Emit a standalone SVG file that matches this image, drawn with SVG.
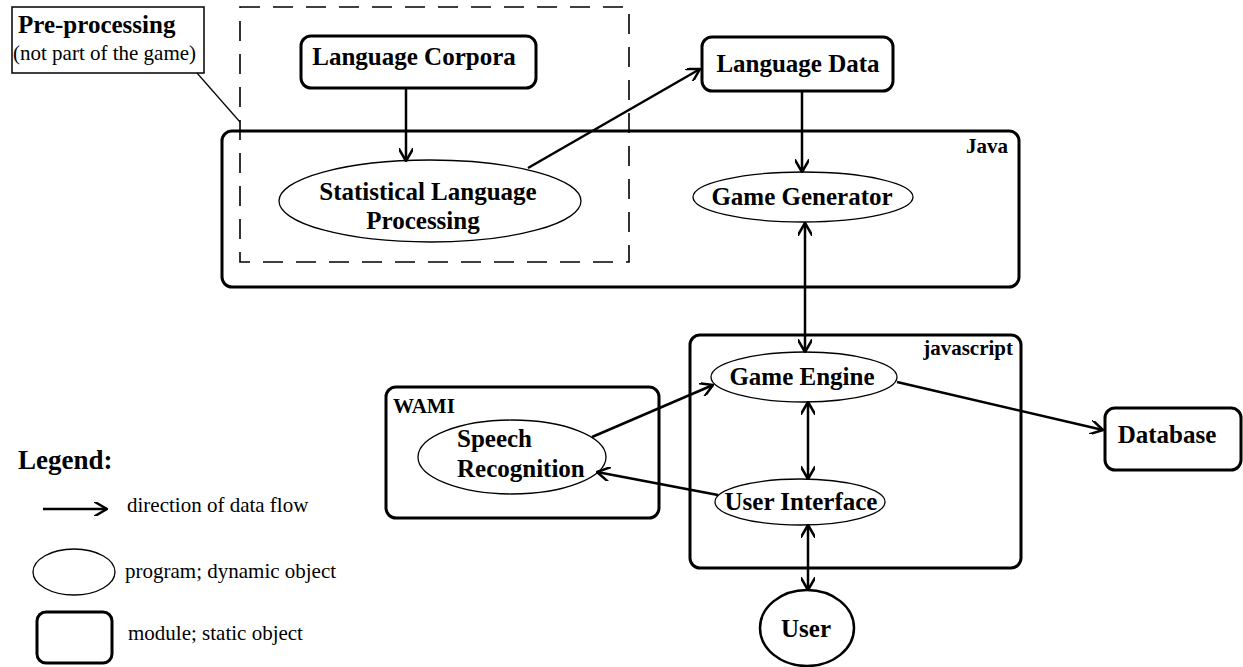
<svg xmlns="http://www.w3.org/2000/svg" width="1243" height="667" viewBox="0 0 1243 667">
<style>
.bg{fill:#fff}
.box{fill:none;stroke:#000;stroke-width:3}
.ell{fill:#fff;stroke:#000;stroke-width:1.3}
.lbl{font-family:"Liberation Serif",serif;font-weight:bold;font-size:25px;fill:#000}
.sm{font-family:"Liberation Serif",serif;font-weight:bold;font-size:21px;fill:#000}
.reg{font-family:"Liberation Serif",serif;font-size:21px;fill:#000}
.con{fill:none;stroke:#000;stroke-width:2.5}
</style>
<defs>
<marker id="ah" viewBox="0 0 14 14" refX="13" refY="7" markerWidth="14" markerHeight="14" markerUnits="userSpaceOnUse" orient="auto-start-reverse">
<path d="M1,0 L13,7 L1,14" fill="none" stroke="#000" stroke-width="2.5" stroke-linecap="round" stroke-linejoin="round"/>
</marker>
</defs>
<rect class="bg" x="0" y="0" width="1243" height="667"/>

<g id="preprocessing-note">
<rect x="12" y="7" width="192" height="66" fill="#fff" stroke="#000" stroke-width="1.5"/>
<text class="lbl" x="18" y="33">Pre-processing</text>
<text class="reg" x="13" y="60">(not part of the game)</text>
<line x1="197" y1="73" x2="240" y2="122" stroke="#000" stroke-width="1.2"/>
</g>

<g id="java-module">
<rect class="box" x="222" y="131" width="797" height="156" rx="10"/>
<text class="sm" x="1008" y="153" text-anchor="end">Java</text>
</g>

<g id="preprocessing-boundary">
<rect x="240" y="7" width="389" height="255" fill="none" stroke="#000" stroke-width="1.6" stroke-dasharray="20,13"/>
</g>

<g id="javascript-module">
<rect class="box" x="690" y="335" width="331" height="233" rx="10"/>
<text class="sm" x="1013" y="355" text-anchor="end">javascript</text>
</g>

<g id="wami-module">
<rect class="box" x="386" y="387" width="273" height="131" rx="10"/>
<text class="sm" x="393" y="413">WAMI</text>
</g>

<g id="language-corpora">
<rect class="box" x="301" y="36" width="235" height="52" rx="10" fill="#fff"/>
<text class="lbl" x="414" y="65" text-anchor="middle">Language Corpora</text>
</g>

<g id="language-data">
<rect class="box" x="702" y="37" width="191" height="54" rx="10" fill="#fff"/>
<text class="lbl" x="798" y="72" text-anchor="middle">Language Data</text>
</g>

<g id="statistical-language-processing">
<ellipse class="ell" cx="430" cy="201" rx="151" ry="41"/>
<text class="lbl" x="428" y="200" text-anchor="middle">Statistical Language</text>
<text class="lbl" x="423" y="229" text-anchor="middle">Processing</text>
</g>

<g id="game-generator">
<ellipse class="ell" cx="803" cy="197" rx="110" ry="25"/>
<text class="lbl" x="802" y="205" text-anchor="middle">Game Generator</text>
</g>

<g id="game-engine">
<ellipse class="ell" cx="804" cy="377" rx="93" ry="25"/>
<text class="lbl" x="802" y="385" text-anchor="middle">Game Engine</text>
</g>

<g id="user-interface">
<ellipse class="ell" cx="800" cy="502" rx="85" ry="23"/>
<text class="lbl" x="801" y="510" text-anchor="middle">User Interface</text>
</g>

<g id="speech-recognition">
<ellipse class="ell" cx="512" cy="457" rx="94" ry="37"/>
<text class="lbl" x="457" y="447">Speech</text>
<text class="lbl" x="457" y="477">Recognition</text>
</g>

<g id="database">
<rect class="box" x="1105" y="408" width="136" height="62" rx="10" fill="#fff"/>
<text class="lbl" x="1167" y="443" text-anchor="middle">Database</text>
</g>

<g id="user">
<ellipse cx="807" cy="628" rx="47" ry="38" fill="#fff" stroke="#000" stroke-width="2.5"/>
<text class="lbl" x="806" y="637" text-anchor="middle">User</text>
</g>

<g id="connectors">
<line class="con" x1="406" y1="88" x2="406" y2="161" marker-end="url(#ah)"/>
<line class="con" x1="528" y1="168" x2="700" y2="69" marker-end="url(#ah)"/>
<line class="con" x1="802" y1="91" x2="802" y2="172" marker-end="url(#ah)"/>
<line class="con" x1="805" y1="223" x2="805" y2="352" marker-start="url(#ah)" marker-end="url(#ah)"/>
<line class="con" x1="808" y1="402" x2="808" y2="479" marker-start="url(#ah)" marker-end="url(#ah)"/>
<line class="con" x1="808" y1="525" x2="808" y2="590" marker-start="url(#ah)" marker-end="url(#ah)"/>
<line class="con" x1="592" y1="437" x2="713" y2="385" marker-end="url(#ah)"/>
<line class="con" x1="718" y1="495" x2="597" y2="472" marker-end="url(#ah)"/>
<line class="con" x1="897" y1="382" x2="1103" y2="430" marker-end="url(#ah)"/>
</g>

<g id="legend">
<text class="lbl" x="18" y="469" style="font-size:27px">Legend:</text>
<line class="con" x1="43" y1="509" x2="107" y2="509" marker-end="url(#ah)"/>
<text class="reg" x="127" y="512">direction of data flow</text>
<ellipse class="ell" cx="74" cy="572" rx="41" ry="23"/>
<text class="reg" x="125" y="578">program; dynamic object</text>
<rect class="box" x="37" y="612" width="75" height="51" rx="9"/>
<text class="reg" x="128" y="640">module; static object</text>
</g>
</svg>
